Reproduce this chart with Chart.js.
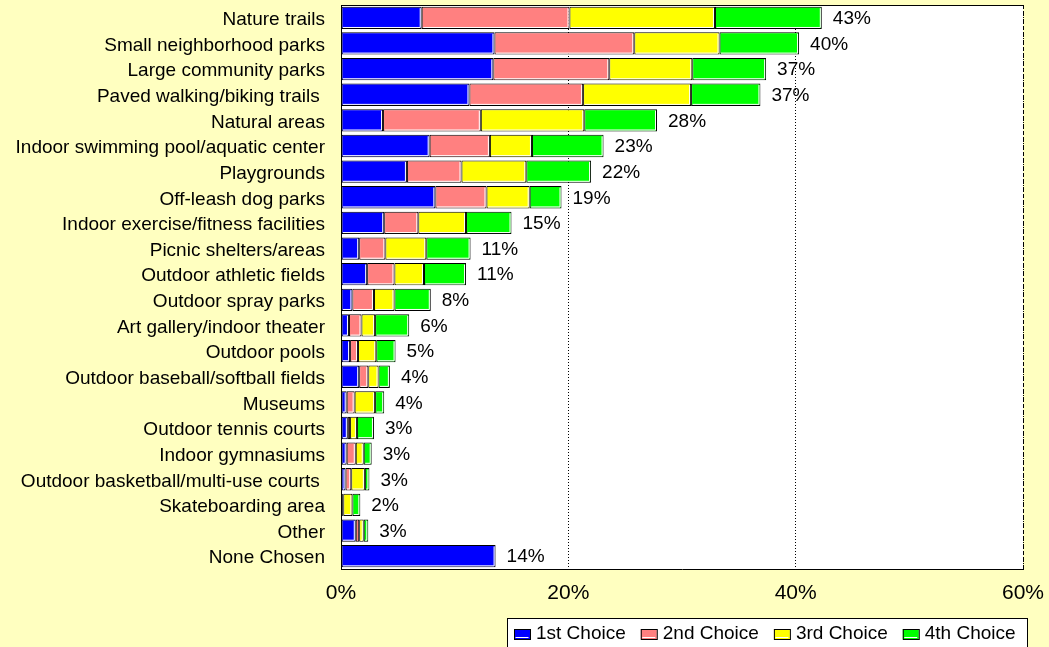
<!DOCTYPE html>
<html>
<head>
<meta charset="utf-8">
<script src="https://cdn.jsdelivr.net/npm/chart.js@4.4.1/dist/chart.umd.min.js"></script>
<style>
  html, body { margin: 0; padding: 0; background: #FFFFC0; }
  #chart { display: block; }
</style>
</head>
<body>
<canvas id="chart" width="1049" height="647"></canvas>
<script>
const categories = [
  "Nature trails", "Small neighborhood parks", "Large community parks", "Paved walking/biking trails ",
  "Natural areas", "Indoor swimming pool/aquatic center", "Playgrounds", "Off-leash dog parks",
  "Indoor exercise/fitness facilities", "Picnic shelters/areas", "Outdoor athletic fields",
  "Outdoor spray parks", "Art gallery/indoor theater", "Outdoor pools", "Outdoor baseball/softball fields",
  "Museums", "Outdoor tennis courts", "Indoor gymnasiums", "Outdoor basketball/multi-use courts ",
  "Skateboarding area", "Other", "None Chosen"
];
const firstChoice  = [7.1, 13.5, 13.4, 11.3, 3.7, 7.8, 5.8, 8.3, 3.8, 1.6, 2.3, 1.0, 0.7, 0.8, 1.6, 0.5, 0.6, 0.5, 0.4, 0.1, 1.3, 13.6];
const secondChoice = [13.0, 12.3, 10.2, 10.0, 8.6, 5.3, 4.8, 4.5, 3.0, 2.3, 2.4, 1.9, 1.1, 0.7, 0.8, 0.7, 0.2, 0.8, 0.5, 0.1, 0.3, 0];
const thirdChoice  = [12.8, 7.5, 7.3, 9.5, 9.1, 3.7, 5.7, 3.8, 4.2, 3.6, 2.6, 1.8, 1.2, 1.6, 0.9, 1.8, 0.6, 0.7, 1.2, 0.8, 0.4, 0];
const fourthChoice = [9.4, 7.0, 6.5, 6.1, 6.4, 6.3, 5.7, 2.8, 4.0, 3.9, 3.7, 3.2, 3.0, 1.7, 1.0, 0.8, 1.5, 0.7, 0.4, 0.7, 0.4, 0];
const totalLabels  = [43, 40, 37, 37, 28, 23, 22, 19, 15, 11, 11, 8, 6, 5, 4, 4, 3, 3, 3, 2, 3, 14];
const seriesNames  = ["1st Choice", "2nd Choice", "3rd Choice", "4th Choice"];
const seriesColors = ["#0000FF", "#FF8080", "#FFFF00", "#00FF00"];
const xTicks = [0, 20, 40, 60];

const FONT = "'Liberation Sans', Arial, sans-serif";

// white inner edge on each bar (bottom + right), like the old excel look
const barShine = {
  id: "barShine",
  afterDatasetsDraw(chart) {
    const ctx = chart.ctx;
    ctx.save();
    ctx.strokeStyle = "#fff";
    ctx.lineWidth = 1;
    chart.data.datasets.forEach((ds, di) => {
      chart.getDatasetMeta(di).data.forEach(el => {
        const p = el.getProps(["x", "y", "base", "height"], true);
        const l = Math.min(p.x, p.base), r = Math.max(p.x, p.base);
        if (r - l < 4) return;
        const t = p.y - p.height / 2, b = p.y + p.height / 2;
        ctx.beginPath();
        ctx.moveTo(l + 1.5, b - 1.5);
        ctx.lineTo(r - 1.5, b - 1.5);
        ctx.lineTo(r - 1.5, t + 1.5);
        ctx.stroke();
      });
    });
    ctx.restore();
  }
};

// total % at the end of each stack
const totals = {
  id: "totals",
  afterDatasetsDraw(chart) {
    const ctx = chart.ctx;
    const meta = chart.getDatasetMeta(chart.data.datasets.length - 1);
    ctx.save();
    ctx.font = "19px " + FONT;
    ctx.fillStyle = "#000";
    ctx.textBaseline = "middle";
    ctx.textAlign = "left";
    meta.data.forEach((el, i) => {
      ctx.fillText(totalLabels[i] + "%", el.x + 11, el.y + 1);
    });
    ctx.restore();
  }
};

// frame: solid top, dashed right edge
const frame = {
  id: "frame",
  afterDraw(chart) {
    const ctx = chart.ctx, a = chart.chartArea;
    ctx.save();
    ctx.strokeStyle = "#000";
    ctx.lineWidth = 1;
    ctx.beginPath();
    ctx.moveTo(a.left, a.top + 0.5);
    ctx.lineTo(a.right, a.top + 0.5);
    ctx.stroke();
    ctx.setLineDash([4, 3]);
    ctx.beginPath();
    ctx.moveTo(a.right + 0.5, a.top);
    ctx.lineTo(a.right + 0.5, a.bottom);
    ctx.stroke();
    ctx.restore();
  }
};

// legend box in the bottom right corner
const legendBox = {
  id: "legendBox",
  afterDraw(chart) {
    const ctx = chart.ctx;
    ctx.save();
    ctx.fillStyle = "#fff";
    ctx.fillRect(508, 619, 519, 30);
    ctx.strokeStyle = "#000";
    ctx.lineWidth = 1;
    ctx.strokeRect(507.5, 618.5, 520, 40);
    ctx.font = "19px " + FONT;
    ctx.textBaseline = "middle";
    let x = 514;
    chart.data.datasets.forEach(ds => {
      ctx.fillStyle = ds.backgroundColor;
      ctx.fillRect(x, 629, 16, 10);
      ctx.strokeStyle = "#fff";
      ctx.beginPath();
      ctx.moveTo(x + 1.5, 637.5);
      ctx.lineTo(x + 14.5, 637.5);
      ctx.stroke();
      ctx.strokeStyle = "#000";
      ctx.strokeRect(x + 0.5, 629.5, 16, 10);
      ctx.fillStyle = "#000";
      ctx.fillText(ds.label, x + 22, 634);
      x += 22 + ctx.measureText(ds.label).width + 15;
    });
    ctx.restore();
  }
};

const bg = {
  id: "bg",
  beforeDraw(chart) {
    const ctx = chart.ctx, a = chart.chartArea;
    ctx.save();
    ctx.fillStyle = "#FFFFC0";
    ctx.fillRect(0, 0, chart.width, chart.height);
    ctx.fillStyle = "#fff";
    ctx.fillRect(a.left, a.top, a.right - a.left, a.bottom - a.top);
    ctx.restore();
  }
};

new Chart(document.getElementById("chart"), {
  type: "bar",
  data: {
    labels: categories,
    datasets: [firstChoice, secondChoice, thirdChoice, fourthChoice].map((d, i) => ({
      label: seriesNames[i],
      data: d,
      backgroundColor: seriesColors[i],
      borderColor: "#000",
      borderWidth: 1,
      borderSkipped: false,
      barPercentage: 0.87,
      categoryPercentage: 1
    }))
  },
  options: {
    indexAxis: "y",
    responsive: false,
    animation: false,
    layout: { padding: { top: 5, right: 26, left: 0, bottom: 30 } },
    scales: {
      x: {
        stacked: true,
        min: 0,
        max: 60,
        afterBuildTicks: s => { s.ticks = xTicks.map(v => ({ value: v })); },
        afterFit: s => { s.height = 48; s.paddingLeft = 0; s.paddingRight = 0; },
        ticks: {
          callback: v => v + "%",
          color: "#000",
          font: { family: FONT, size: 21 },
          padding: 12,
          maxRotation: 0
        },
        grid: { color: "#000", drawTicks: false, lineWidth: 1 },
        border: { display: true, color: "#000", width: 1, dash: [1, 2] }
      },
      y: {
        stacked: true,
        afterFit: s => { s.width = 341; s.paddingTop = 0; s.paddingBottom = 0; },
        ticks: {
          color: "#000",
          font: { family: FONT, size: 19 },
          padding: 16,
          labelOffset: 2,
          autoSkip: false
        },
        grid: { display: false, drawTicks: false },
        border: { display: true, color: "#000", width: 1 }
      }
    },
    plugins: {
      legend: { display: false },
      tooltip: { enabled: false }
    }
  },
  plugins: [bg, barShine, totals, frame, legendBox]
});
</script>
</body>
</html>
